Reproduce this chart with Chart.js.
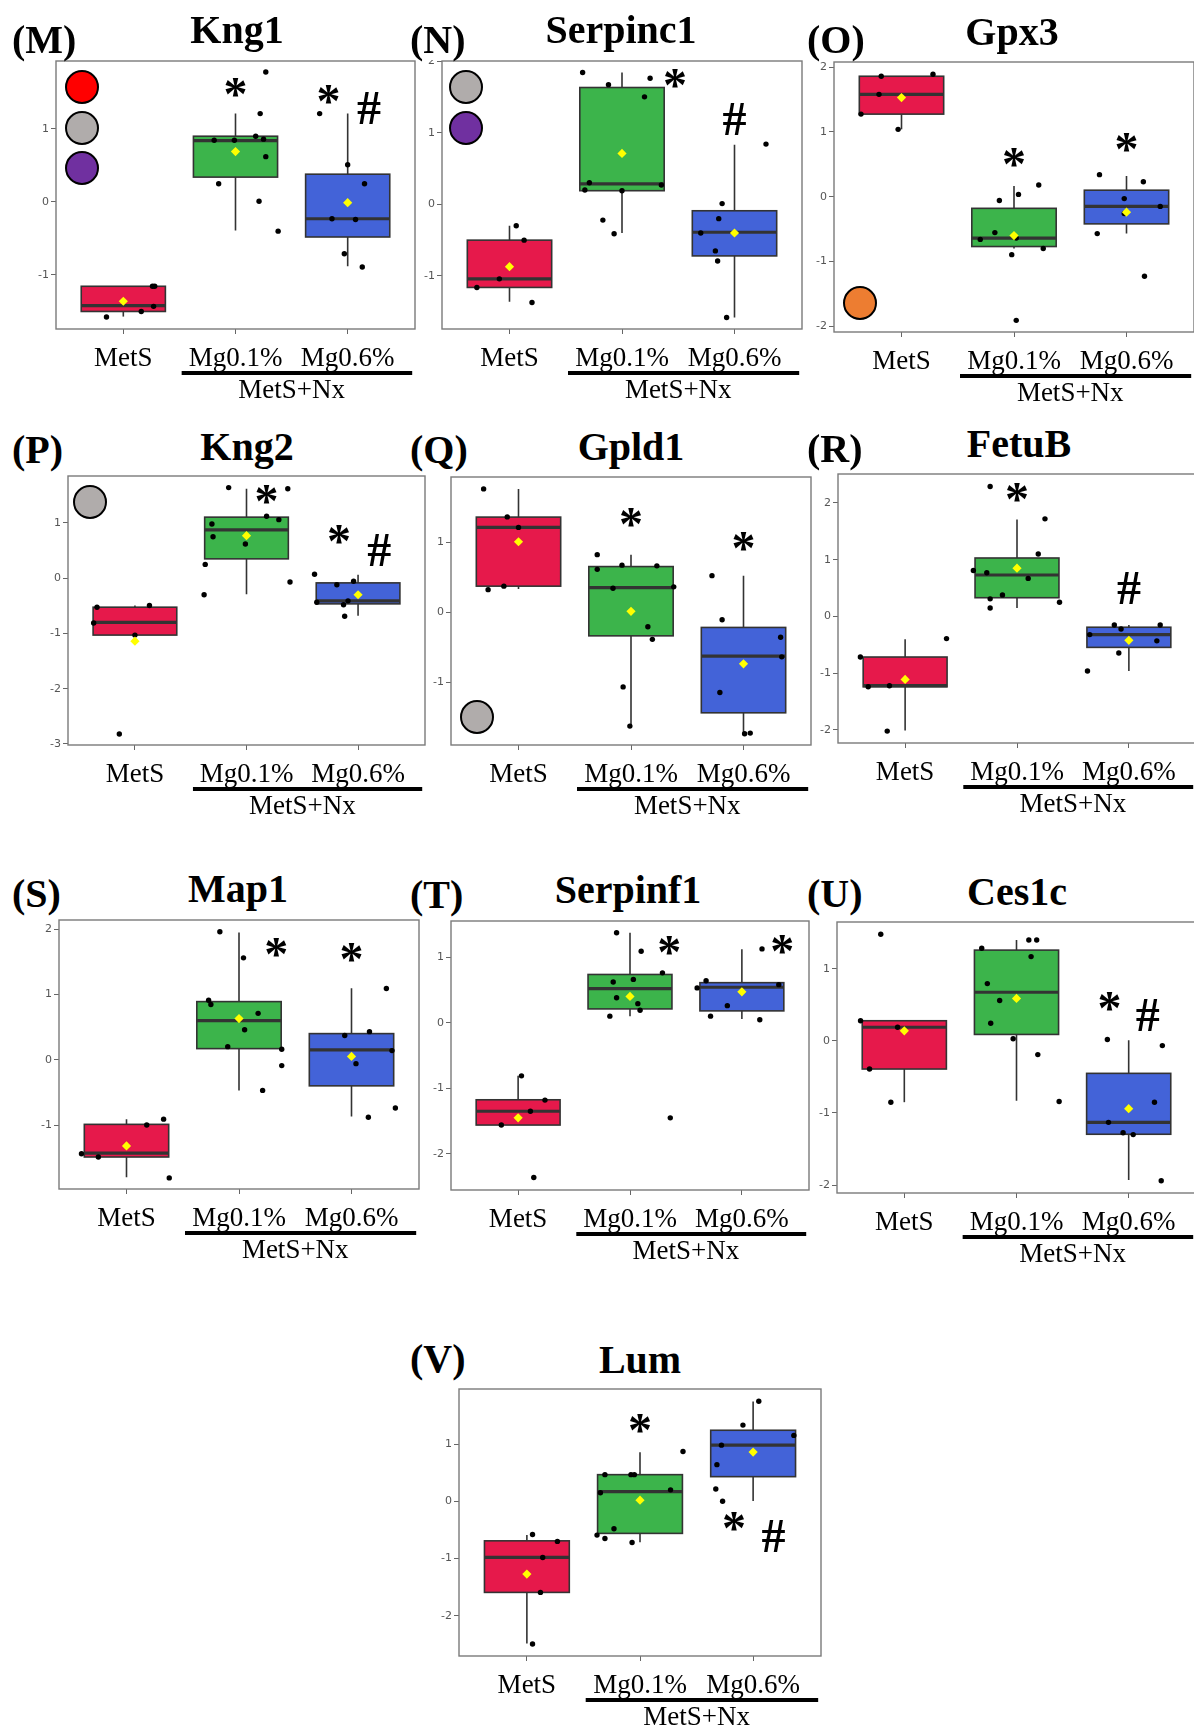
<!DOCTYPE html>
<html>
<head>
<meta charset="utf-8">
<script src="https://cdn.jsdelivr.net/npm/chart.js@4.4.1/dist/chart.umd.min.js"></script>
<style>
  html, body { margin: 0; padding: 0; background: #fff; }
  body { width: 1194px; height: 1733px; position: relative; overflow: hidden; font-family: "Liberation Serif", "Times New Roman", serif; }
  .wrap { position: absolute; }
  .txt { position: absolute; white-space: nowrap; color: #000; }
  .dot { position: absolute; width: 30px; height: 30px; border: 2px solid #000; border-radius: 50%; }
</style>
</head>
<body>
<script>
// groups on the x axis, and the bracket under the two Nx groups
const groups = ["MetS", "Mg0.1%", "Mg0.6%"]
const subgroupLabel = "MetS+Nx"

// box stats per group: [lower whisker, q1, median, q3, upper whisker]
// points per group: [x jitter, value]; marks: [symbol, x, y]
const kng1Stats  = [[-1.57, -1.50, -1.42, -1.155, -1.155], [-0.39, 0.34, 0.84, 0.90, 1.21], [-0.88, -0.48, -0.23, 0.38, 1.21]]
const kng1Means  = [-1.36, 0.69, -0.01]
const kng1Points = [
  [[-0.15, -1.575], [0.16, -1.50], [0.27, -1.43], [0.26, -1.155], [0.28, -1.155]],
  [[0.27, 1.78], [0.22, 1.21], [-0.19, 0.845], [-0.01, 0.845], [0.18, 0.90], [0.25, 0.86], [0.27, 0.62], [-0.15, 0.25], [0.21, 0.01], [0.38, -0.40]],
  [[-0.25, 1.21], [0, 0.51], [0.15, 0.25], [-0.14, -0.23], [0.07, -0.24], [-0.03, -0.71], [0.13, -0.89]]
]
const kng1Marks = [["*", 2, 1.58], ["*", 2.83, 1.48], ["#", 3.19, 1.30]]

const serpinc1Stats  = [[-1.36, -1.16, -1.04, -0.50, -0.30], [-0.40, 0.19, 0.285, 1.63, 1.84], [-1.58, -0.72, -0.39, -0.09, 0.83]]
const serpinc1Means  = [-0.87, 0.71, -0.40]
const serpinc1Points = [
  [[0.06, -0.30], [0.13, -0.50], [-0.09, -1.04], [-0.29, -1.16], [0.2, -1.37]],
  [[-0.35, 1.84], [-0.12, 1.67], [0.25, 1.76], [0.20, 1.50], [-0.29, 0.30], [-0.33, 0.20], [0, 0.19], [0.35, 0.27], [-0.17, -0.22], [-0.07, -0.41]],
  [[0.28, 0.84], [-0.11, 0.01], [-0.14, -0.20], [-0.3, -0.40], [-0.17, -0.65], [-0.15, -0.79], [-0.07, -1.58]]
]
const serpinc1Marks = [["*", 2.47, 1.76], ["#", 3.0, 1.20]]

const gpx3Stats  = [[1.04, 1.275, 1.58, 1.86, 1.86], [-0.80, -0.77, -0.64, -0.18, 0.165], [-0.57, -0.42, -0.15, 0.10, 0.32]]
const gpx3Means  = [1.53, -0.60, -0.24]
const gpx3Points = [
  [[-0.18, 1.86], [0.28, 1.89], [-0.2, 1.58], [-0.36, 1.275], [-0.03, 1.04]],
  [[0.22, 0.18], [0.04, 0.035], [-0.13, -0.06], [-0.17, -0.555], [-0.30, -0.66], [0.02, -0.64], [0.26, -0.80], [-0.02, -0.895], [0.02, -1.91]],
  [[-0.24, 0.34], [0.15, 0.23], [-0.02, -0.03], [0.30, -0.15], [-0.02, -0.26], [-0.26, -0.57], [0.16, -1.23]]
]
const gpx3Marks = [["*", 2, 0.61], ["*", 3, 0.84]]

const kng2Stats  = [[-1.03, -1.03, -0.80, -0.525, -0.495], [-0.29, 0.35, 0.875, 1.105, 1.62], [-0.68, -0.465, -0.41, -0.085, 0.06]]
const kng2Means  = [-1.14, 0.77, -0.30]
const kng2Points = [
  [[-0.34, -0.525], [0.13, -0.495], [-0.37, -0.81], [0, -1.03], [-0.14, -2.82]],
  [[-0.16, 1.64], [0.37, 1.62], [0.18, 1.12], [0.29, 1.06], [-0.31, 0.98], [-0.30, 0.75], [-0.01, 0.62], [-0.37, 0.25], [-0.38, -0.30], [0.39, -0.07]],
  [[-0.39, 0.07], [-0.19, -0.12], [-0.04, -0.055], [-0.37, -0.435], [-0.09, -0.41], [-0.13, -0.48], [-0.12, -0.69]]
]
const kng2Marks = [["*", 2.18, 1.53], ["*", 2.83, 0.80], ["#", 3.19, 0.53]]

const gpld1Stats  = [[0.33, 0.37, 1.21, 1.357, 1.76], [-1.63, -0.34, 0.35, 0.65, 0.82], [-1.74, -1.44, -0.63, -0.22, 0.52]]
const gpld1Means  = [1.005, 0.01, -0.74]
const gpld1Points = [
  [[-0.31, 1.76], [-0.10, 1.36], [0, 1.21], [-0.13, 0.37], [-0.27, 0.32]],
  [[-0.30, 0.82], [-0.30, 0.61], [-0.08, 0.67], [0.23, 0.66], [-0.16, 0.34], [0.38, 0.36], [0.15, -0.21], [0.19, -0.39], [-0.07, -1.07], [-0.01, -1.63]],
  [[-0.28, 0.52], [-0.19, -0.11], [0.33, -0.36], [0.34, -0.64], [-0.21, -1.15], [0.01, -1.74], [0.06, -1.73]]
]
const gpld1Marks = [["*", 2, 1.36], ["*", 3, 1.02]]

const fetubStats  = [[-2.01, -1.24, -1.22, -0.715, -0.40], [0.15, 0.33, 0.73, 1.03, 1.71], [-0.96, -0.545, -0.32, -0.19, -0.15]]
const fetubMeans  = [-1.11, 0.85, -0.42]
const fetubPoints = [
  [[-0.40, -0.715], [0.37, -0.39], [-0.33, -1.24], [-0.14, -1.22], [-0.16, -2.02]],
  [[-0.24, 2.29], [0.25, 1.72], [0.19, 1.10], [-0.39, 0.81], [-0.27, 0.77], [0.10, 0.67], [-0.13, 0.38], [-0.24, 0.31], [0.38, 0.25], [-0.24, 0.15]],
  [[-0.13, -0.15], [0.28, -0.15], [-0.07, -0.22], [-0.35, -0.32], [0.25, -0.43], [-0.09, -0.645], [-0.37, -0.96]]
]
const fetubMarks = [["*", 2, 2.19], ["#", 3, 0.52]]

const map1Stats  = [[-1.80, -1.49, -1.43, -0.99, -0.91], [-0.47, 0.17, 0.60, 0.89, 1.95], [-0.87, -0.40, 0.15, 0.40, 1.095]]
const map1Means  = [-1.32, 0.63, 0.05]
const map1Points = [
  [[0.33, -0.91], [0.18, -1.0], [-0.40, -1.44], [-0.25, -1.49], [0.38, -1.81]],
  [[-0.17, 1.96], [0.04, 1.56], [-0.27, 0.91], [-0.25, 0.845], [0.17, 0.71], [0.05, 0.46], [-0.10, 0.20], [0.38, 0.16], [0.38, -0.09], [0.21, -0.47]],
  [[0.31, 1.09], [0.16, 0.43], [-0.06, 0.37], [0.36, 0.14], [0.04, -0.06], [0.15, -0.88], [0.39, -0.74]]
]
const map1Marks = [["*", 2.33, 1.72], ["*", 3, 1.645]]

const serpinf1Stats  = [[-1.56, -1.56, -1.35, -1.175, -0.81], [0.10, 0.21, 0.52, 0.735, 1.37], [0.055, 0.18, 0.54, 0.61, 1.12]]
const serpinf1Means  = [-1.45, 0.40, 0.47]
const serpinf1Points = [
  [[0.03, -0.81], [0.24, -1.18], [0.11, -1.35], [-0.15, -1.56], [0.14, -2.36]],
  [[-0.12, 1.37], [0.10, 1.09], [0.29, 0.76], [0.03, 0.66], [-0.15, 0.62], [-0.12, 0.38], [0.07, 0.29], [0.09, 0.19], [-0.18, 0.10], [0.36, -1.45]],
  [[0.18, 1.125], [-0.32, 0.64], [-0.40, 0.53], [0.33, 0.58], [-0.13, 0.26], [-0.28, 0.10], [0.16, 0.045]]
]
const serpinf1Marks = [["*", 2.35, 1.19], ["*", 3.36, 1.20]]

const ces1cStats  = [[-0.85, -0.39, 0.19, 0.28, 0.28], [-0.83, 0.09, 0.675, 1.26, 1.40], [-1.93, -1.295, -1.13, -0.45, 0.01]]
const ces1cMeans  = [0.14, 0.59, -0.94]
const ces1cPoints = [
  [[-0.21, 1.48], [-0.39, 0.28], [-0.06, 0.19], [-0.31, -0.39], [-0.12, -0.85]],
  [[0.11, 1.40], [0.18, 1.40], [-0.31, 1.285], [0.13, 1.17], [-0.26, 0.795], [-0.15, 0.56], [-0.23, 0.245], [-0.03, 0.03], [0.19, -0.19], [0.38, -0.84]],
  [[-0.19, 0.02], [0.30, -0.065], [0.23, -0.85], [-0.18, -1.13], [-0.05, -1.275], [0.04, -1.30], [0.29, -1.94]]
]
const ces1cMarks = [["*", 2.83, 0.55], ["#", 3.17, 0.365]]

const lumStats  = [[-2.48, -1.59, -0.98, -0.69, -0.59], [-0.715, -0.56, 0.17, 0.465, 0.855], [0.005, 0.43, 0.98, 1.24, 1.74]]
const lumMeans  = [-1.27, 0.02, 0.86]
const lumPoints = [
  [[0.05, -0.58], [0.27, -0.70], [0.14, -0.98], [0.12, -1.59], [0.05, -2.49]],
  [[0.38, 0.87], [-0.31, 0.465], [-0.08, 0.465], [-0.05, 0.465], [0.27, 0.20], [-0.35, 0.15], [-0.23, -0.48], [-0.38, -0.59], [-0.31, -0.65], [-0.07, -0.72]],
  [[0.05, 1.745], [-0.09, 1.33], [0.36, 1.15], [-0.28, 0.98], [-0.32, 0.64], [-0.33, 0.215], [-0.27, 0.0]]
]
const lumMarks = [["*", 2, 1.36], ["*", 2.83, -0.34], ["#", 3.18, -0.59]]

// styles
const boxColors = ["#e6194b", "#3cb44b", "#4363d8"]
const AXIS_W = 44
const X_H = 82

// layout: plot rect [left, top, right, bottom], y range, title/letter spots, coloured keys
const panels = [
  { letter: "(M)", title: "Kng1", stats: kng1Stats, means: kng1Means, points: kng1Points, marks: kng1Marks,
    plot: [56, 61, 415, 329], y: [-1.74, 1.93], tx: 237, ty: 43, lx: 12, ly: 53,
    dots: [[82, 87, "#ff0000"], [82, 128, "#b0acab"], [82, 168, "#7030a0"]] },
  { letter: "(N)", title: "Serpinc1", stats: serpinc1Stats, means: serpinc1Means, points: serpinc1Points, marks: serpinc1Marks,
    plot: [442, 61, 802, 329], y: [-1.74, 2.0], tx: 621, ty: 43, lx: 410, ly: 53,
    dots: [[466, 87, "#b0acab"], [466, 128, "#7030a0"]] },
  { letter: "(O)", title: "Gpx3", stats: gpx3Stats, means: gpx3Means, points: gpx3Points, marks: gpx3Marks,
    plot: [834, 62, 1194, 332], y: [-2.09, 2.08], tx: 1012, ty: 45, lx: 807, ly: 53,
    dots: [[860, 303, "#ed7d31"]] },
  { letter: "(P)", title: "Kng2", stats: kng2Stats, means: kng2Means, points: kng2Points, marks: kng2Marks,
    plot: [68, 476, 425, 745], y: [-3.02, 1.85], tx: 247, ty: 460, lx: 12, ly: 463,
    dots: [[90, 502, "#b0acab"]] },
  { letter: "(Q)", title: "Gpld1", stats: gpld1Stats, means: gpld1Means, points: gpld1Points, marks: gpld1Marks,
    plot: [451, 477, 811, 745], y: [-1.90, 1.93], tx: 631, ty: 460, lx: 410, ly: 463,
    dots: [[477, 717, "#b0acab"]] },
  { letter: "(R)", title: "FetuB", stats: fetubStats, means: fetubMeans, points: fetubPoints, marks: fetubMarks,
    plot: [838, 474, 1196, 743], y: [-2.23, 2.51], tx: 1019, ty: 457, lx: 807, ly: 462, dots: [] },
  { letter: "(S)", title: "Map1", stats: map1Stats, means: map1Means, points: map1Points, marks: map1Marks,
    plot: [59, 920, 419, 1189], y: [-1.98, 2.14], tx: 238, ty: 902, lx: 12, ly: 907, dots: [] },
  { letter: "(T)", title: "Serpinf1", stats: serpinf1Stats, means: serpinf1Means, points: serpinf1Points, marks: serpinf1Marks,
    plot: [451, 921, 809, 1190], y: [-2.55, 1.55], tx: 628, ty: 903, lx: 410, ly: 908, dots: [] },
  { letter: "(U)", title: "Ces1c", stats: ces1cStats, means: ces1cMeans, points: ces1cPoints, marks: ces1cMarks,
    plot: [837, 922, 1196, 1193], y: [-2.11, 1.65], tx: 1017, ty: 905, lx: 807, ly: 907, dots: [] },
  { letter: "(V)", title: "Lum", stats: lumStats, means: lumMeans, points: lumPoints, marks: lumMarks,
    plot: [459, 1389, 821, 1656], y: [-2.70, 1.96], tx: 640, ty: 1373, lx: 410, ly: 1372, dots: [] }
]

// boxes under the points, frame + significance marks + bracket on top
const boxPlot = {
  id: "boxPlot",
  beforeDatasetsDraw(chart, args, o) {
    const { ctx, scales: { x, y } } = chart
    o.stats.forEach(([lo, q1, med, q3, hi], i) => {
      const cx = x.getPixelForValue(i + 1)
      const half = x.getPixelForValue(i + 1.375) - cx
      const top = y.getPixelForValue(q3), bot = y.getPixelForValue(q1)
      ctx.save()
      ctx.strokeStyle = "#333"
      ctx.lineWidth = 1.6
      ctx.beginPath()
      ctx.moveTo(cx, y.getPixelForValue(hi)); ctx.lineTo(cx, top)
      ctx.moveTo(cx, bot); ctx.lineTo(cx, y.getPixelForValue(lo))
      ctx.stroke()
      ctx.fillStyle = boxColors[i]
      ctx.fillRect(cx - half, top, 2 * half, bot - top)
      ctx.strokeRect(cx - half, top, 2 * half, bot - top)
      ctx.lineWidth = 3.2
      ctx.beginPath()
      ctx.moveTo(cx - half, y.getPixelForValue(med)); ctx.lineTo(cx + half, y.getPixelForValue(med))
      ctx.stroke()
      ctx.restore()
    })
  },
  afterDraw(chart, args, o) {
    const { ctx, chartArea: a, scales: { x, y } } = chart
    ctx.save()
    ctx.strokeStyle = "#7a7a7a"
    ctx.lineWidth = 1.4
    ctx.strokeRect(a.left, a.top, a.right - a.left, a.bottom - a.top)

    ctx.fillStyle = "#000"
    ctx.textAlign = "center"
    ctx.textBaseline = "alphabetic"
    o.marks.forEach(([s, mx, my]) => {
      const fs = 48
      ctx.font = `bold ${fs}px "Liberation Serif"`
      // glyph centre sits this far above the baseline
      const lift = s === "*" ? 0.48 : 0.35
      ctx.fillText(s, x.getPixelForValue(mx), y.getPixelForValue(my) + lift * fs)
    })

    const x0 = x.getPixelForValue(2 - 0.48), x1 = x.getPixelForValue(3 + 0.575)
    ctx.fillRect(x0, a.bottom + 42, x1 - x0, 4)
    ctx.font = '27px "Liberation Serif"'
    ctx.fillText(subgroupLabel, (x.getPixelForValue(2) + x.getPixelForValue(3)) / 2, a.bottom + 69)
    ctx.restore()
  }
}

function addText(txt, x, baseline, size, bold, center) {
  const el = document.createElement("div")
  el.className = "txt"
  el.textContent = txt
  el.style.fontSize = size + "px"
  el.style.lineHeight = size + "px"
  el.style.fontWeight = bold ? "bold" : "normal"
  el.style.top = (baseline - 0.8375 * size) + "px"
  el.style.left = x + "px"
  if (center) el.style.transform = "translateX(-50%)"
  document.body.appendChild(el)
}

function noPad(scale) {
  scale.paddingTop = 0; scale.paddingBottom = 0
  scale.paddingLeft = 0; scale.paddingRight = 0
}

panels.forEach(p => {
  const [l, t, r, b] = p.plot
  const wrap = document.createElement("div")
  wrap.className = "wrap"
  wrap.style.left = (l - AXIS_W) + "px"
  wrap.style.top = (t - 1) + "px"
  wrap.style.width = (r - l + AXIS_W + 1) + "px"
  wrap.style.height = (b - t + 1 + X_H) + "px"
  const canvas = document.createElement("canvas")
  wrap.appendChild(canvas)
  document.body.appendChild(wrap)

  addText(p.letter, p.lx, p.ly, 40, true, false)
  addText(p.title, p.tx, p.ty, 40, true, true)
  p.dots.forEach(([cx, cy, c]) => {
    const d = document.createElement("div")
    d.className = "dot"
    d.style.left = (cx - 17) + "px"
    d.style.top = (cy - 17) + "px"
    d.style.background = c
    document.body.appendChild(d)
  })

  const pts = []
  p.points.forEach((g, gi) => g.forEach(([dx, v]) => pts.push({ x: gi + 1 + dx, y: v })))
  const means = p.means.map((m, gi) => ({ x: gi + 1, y: m }))

  new Chart(canvas, {
    type: "scatter",
    data: {
      datasets: [
        { data: means, pointStyle: "rectRot", pointRadius: 4.6, backgroundColor: "#ffff00", borderWidth: 0, clip: false, order: 0 },
        { data: pts, pointRadius: 2.7, backgroundColor: "#000", borderWidth: 0, clip: false, order: 1 }
      ]
    },
    plugins: [boxPlot],
    options: {
      responsive: true,
      maintainAspectRatio: false,
      animation: false,
      layout: { autoPadding: false, padding: { top: 1, right: 1, left: 0, bottom: 0 } },
      plugins: {
        legend: { display: false },
        tooltip: { enabled: false },
        boxPlot: { stats: p.stats, marks: p.marks }
      },
      scales: {
        x: {
          type: "linear",
          min: 0.4,
          max: 3.6,
          afterBuildTicks: s => { s.ticks = groups.map((g, i) => ({ value: i + 1 })) },
          afterFit: s => { s.height = X_H; noPad(s) },
          grid: { drawOnChartArea: false, drawTicks: true, tickLength: 5, color: "#666" },
          border: { display: false },
          ticks: {
            autoSkip: false, maxRotation: 0, padding: 9, color: "#000",
            font: { family: "Liberation Serif", size: 27 },
            callback: v => groups[v - 1]
          }
        },
        y: {
          min: p.y[0],
          max: p.y[1],
          afterFit: s => { s.width = AXIS_W; noPad(s) },
          grid: { drawOnChartArea: false, drawTicks: true, tickLength: 5, color: "#666" },
          border: { display: false },
          ticks: {
            stepSize: 1, includeBounds: false, padding: 2, color: "#555",
            font: { family: "DejaVu Sans", size: 11 }
          }
        }
      }
    }
  })
})
</script>
</body>
</html>
